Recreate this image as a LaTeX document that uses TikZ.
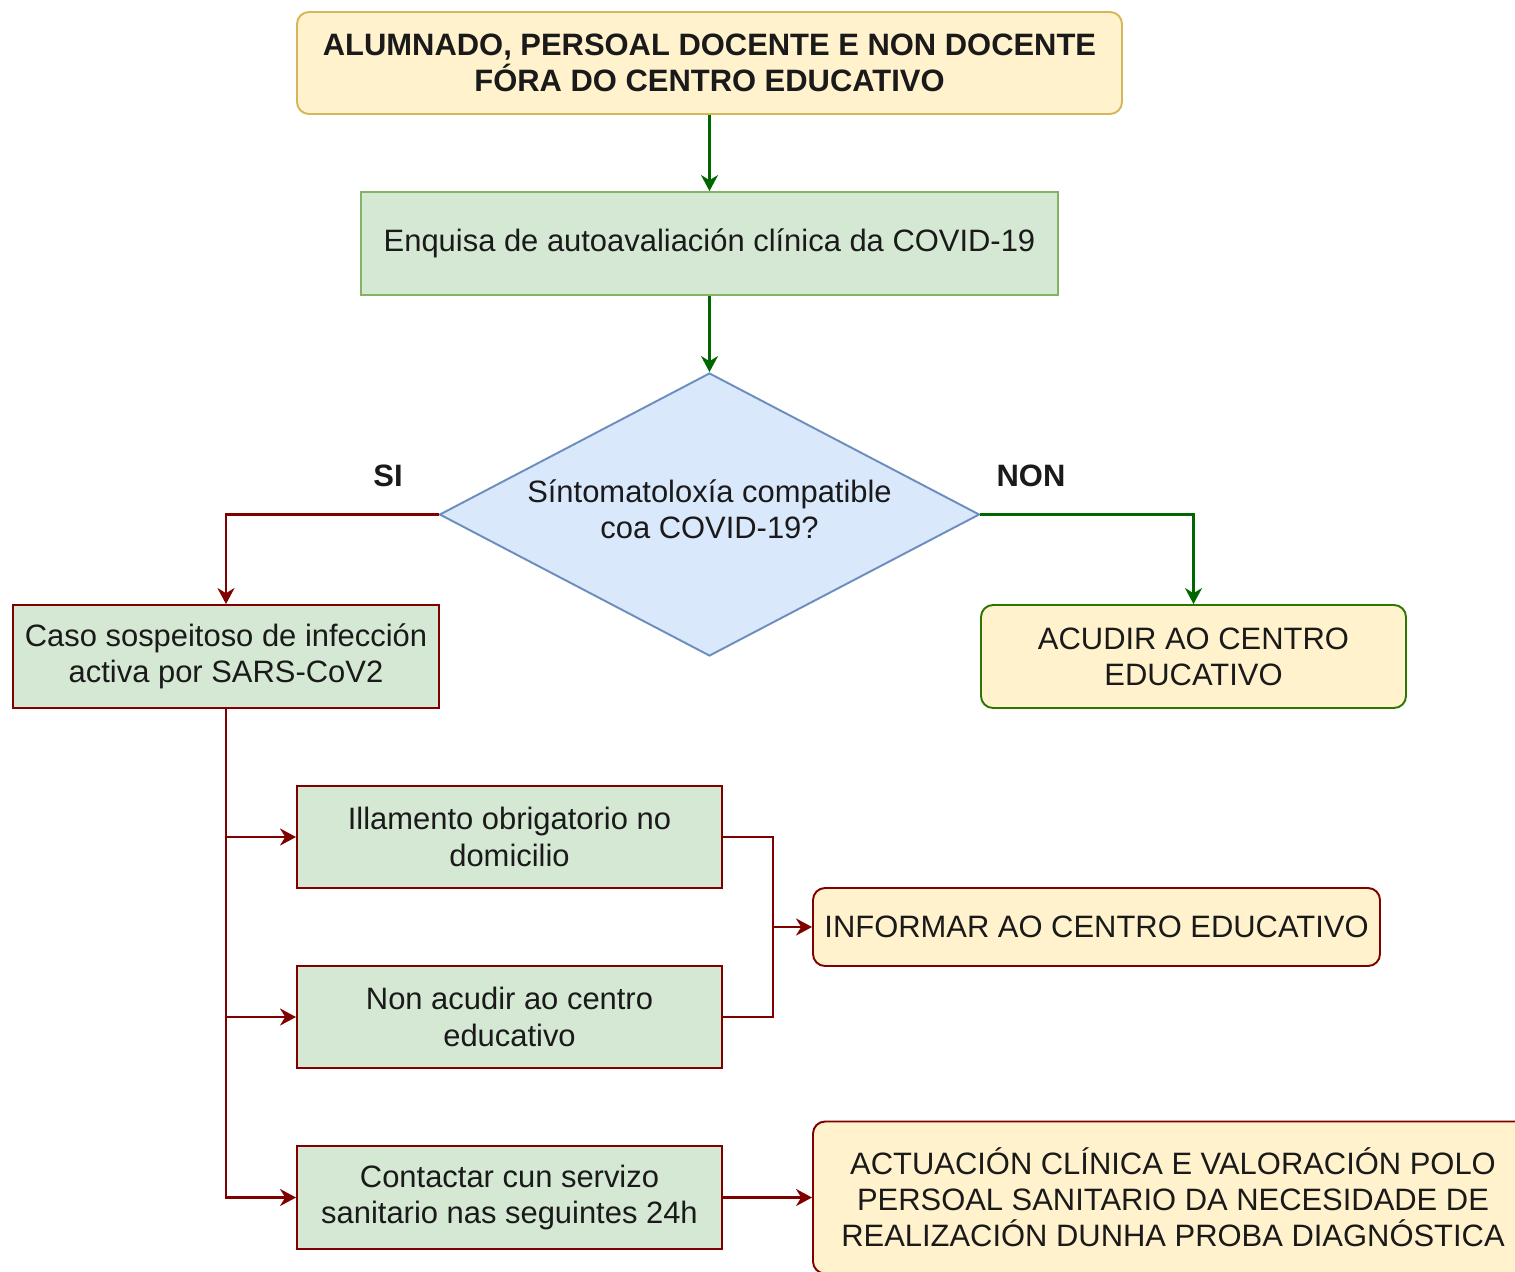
\documentclass[tikz,border=0pt]{standalone}
\usepackage{fontspec}
\setmainfont{Liberation Sans}
\usepackage{xcolor}
\usepackage{tikz}
\usetikzlibrary{shapes.geometric, arrows.meta, positioning, calc}
\definecolor{yelfill}{HTML}{FFF2CC}
\definecolor{yeldraw}{HTML}{D6B656}
\definecolor{grnfill}{HTML}{D5E8D4}
\definecolor{grndraw}{HTML}{82B366}
\definecolor{bluefill}{HTML}{DAE8FC}
\definecolor{bluedraw}{HTML}{6C8EBF}
\definecolor{redline}{HTML}{800000}
\definecolor{grnline}{HTML}{006600}
\definecolor{okdraw}{HTML}{2D7600}
\definecolor{txt}{HTML}{1A1A1A}
\tikzstyle{base} = [text=txt, align=center, line width=1.1pt, inner sep=0pt, font=\fontsize{17.6}{20.6}\selectfont]
\tikzstyle{soft} = [base, rounded corners=0.24cm, fill=yelfill]
\tikzstyle{task} = [base, fill=grnfill]
\tikzstyle{wire} = [line width=1.5pt]
\tikzstyle{arrow} = [wire, -{Stealth[length=0.32cm, width=0.34cm]}]
\tikzstyle{redarrow} = [arrow, draw=redline]
\tikzstyle{grnarrow} = [arrow, draw=grnline]

\begin{document}
\begin{tikzpicture}
        \useasboundingbox (0,0) rectangle (30.3,-25.42);
        % Top: entry box and survey
        \node (start) [soft, draw=yeldraw, minimum width=16.5cm, minimum height=2.04cm, font=\fontsize{17.6}{20.6}\selectfont\bfseries] at (14.19,-1.26) {ALUMNADO, PERSOAL DOCENTE E NON DOCENTE\\FÓRA DO CENTRO EDUCATIVO};
        \node (survey) [task, draw=grndraw, minimum width=13.94cm, minimum height=2.06cm] at (14.19,-4.87) {Enquisa de autoavaliación clínica da COVID-19};

        % Decision
        \node (check) [base, diamond, draw=bluedraw, fill=bluefill, minimum width=10.8cm, minimum height=5.66cm, aspect=1.9, text depth=0.2cm] at (14.19,-10.29) {Síntomatoloxía compatible\\coa COVID-19?};
        \node (yes) [base, font=\fontsize{17.6}{20.6}\selectfont\bfseries] at (7.76,-9.52) {SI};
        \node (no) [base, font=\fontsize{17.6}{20.6}\selectfont\bfseries] at (20.62,-9.52) {NON};

        % Outcomes
        \node (suspect) [task, draw=redline, minimum width=8.52cm, minimum height=2.06cm] at (4.52,-13.13) {Caso sospeitoso de infección\\activa por SARS-CoV2};
        \node (attend) [soft, draw=okdraw, minimum width=8.5cm, minimum height=2.06cm] at (23.87,-13.13) {ACUDIR AO CENTRO\\EDUCATIVO};

        % Actions for a suspected case
        \node (isolate) [task, draw=redline, minimum width=8.5cm, minimum height=2.04cm] at (10.19,-16.74) {Illamento obrigatorio no\\domicilio};
        \node (stay) [task, draw=redline, minimum width=8.5cm, minimum height=2.04cm] at (10.19,-20.34) {Non acudir ao centro\\educativo};
        \node (call) [task, draw=redline, minimum width=8.5cm, minimum height=2.06cm] at (10.19,-23.95) {Contactar cun servizo\\sanitario nas seguintes 24h};
        \node (inform) [soft, draw=redline, minimum width=11.34cm, minimum height=1.56cm] at (21.93,-18.54) {INFORMAR AO CENTRO EDUCATIVO};
        \node (clinic) [soft, draw=redline, minimum width=14.4cm, minimum height=3.04cm] at (23.46,-23.95) {ACTUACIÓN CLÍNICA E VALORACIÓN POLO\\PERSOAL SANITARIO DA NECESIDADE DE\\REALIZACIÓN DUNHA PROBA DIAGNÓSTICA};
        \coordinate (join) at (15.46,-18.54);

        % Arrows
        \draw[grnarrow] (start.south) -- (survey.north);
        \draw[grnarrow] (survey.south) -- (check.north);
        \draw[redarrow] (check.west) -| (suspect.north);
        \draw[grnarrow] (check.east) -| (attend.north);
        \draw[redarrow] (suspect.south) |- (call.west);
        \draw[redarrow] (suspect.south |- isolate.west) -- (isolate.west);
        \draw[redarrow] (suspect.south |- stay.west) -- (stay.west);
        \draw[wire, redline] (isolate.east) -| (join);
        \draw[wire, redline] (stay.east) -| (join);
        \draw[redarrow] (join) -- (inform.west);
        \draw[redarrow] (call.east) -- (clinic.west);
    \end{tikzpicture}
\end{document}
